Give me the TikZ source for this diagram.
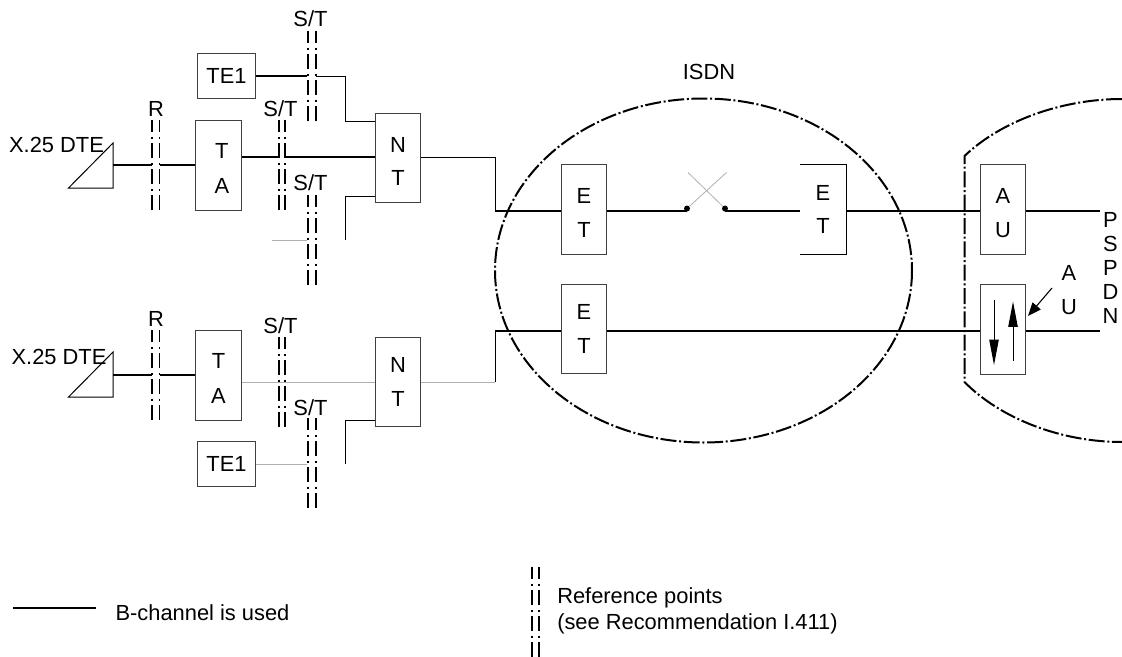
\documentclass[tikz,border=0pt]{standalone}
\usepackage{fontspec}
\setmainfont{Liberation Sans}
\usepackage{xcolor}
\usetikzlibrary{arrows.meta}
\definecolor{ink}{HTML}{000000}
\definecolor{faint}{HTML}{B0B0B0}
\tikzset{
  font=\fontsize{16.4}{25}\selectfont,
  base/.style={
    draw=ink!75, line width=0.8pt, fill=white, text=ink, align=center, inner sep=0pt
  },
  tallbox/.style={base, minimum width=34pt, minimum height=67pt},
  lowbox/.style={tallbox, text height=41.5pt},
  tebox/.style={base, minimum width=44pt, minimum height=34pt},
  openbox/.style={tallbox, draw=none, fill=none},
  tag/.style={text=ink, align=center, inner sep=0pt},
  flow/.style={line width=0.75pt, draw=ink},
  flowb/.style={line width=1.4pt, draw=ink},
  flowg/.style={line width=0.6pt, draw=faint},
  refline/.style={line width=1.25pt, draw=ink, dash pattern=on 11pt off 3.5pt on 1.5pt off 3.5pt, dash phase=2pt},
  boundary/.style={line width=1.5pt, draw=ink, dash pattern=on 12pt off 2pt on 1.5pt off 2pt},
  tiparrow/.style={-{Triangle[length=19pt,width=7pt]}, line width=0.75pt, draw=ink},
  callout/.style={-{Triangle[length=10pt,width=8pt]}, line width=0.8pt, draw=ink},
  swdot/.style={circle, fill=ink, inner sep=0pt, minimum size=4.5pt}
}
\newcommand{\refpt}[4]{%
  \draw[refline] (#1,#3) -- (#1,#4);
  \draw[refline] (#2,#3) -- (#2,#4);
}

\begin{document}
\begin{tikzpicture}[x=0.75pt,y=-0.75pt]
  \useasboundingbox (0,0) rectangle (1122,657);

  % upper access
  \node[tebox] (teup) at (226.5,76) {TE1};
  \node[lowbox] (taup) at (218.5,165.5) {\hspace*{5pt}T\\[1pt]\hspace*{5pt}A};
  \node[lowbox] (ntup) at (398,158) {N\\T};
  \node[tag] (dteup) at (56.5,145) {X.25 DTE};
  \coordinate (dteupa) at (113,165);
  \draw[flow] (dteupa |- 0,143) -- (68.5,188) -- (113,188) -- cycle;

  % lower access
  \node[tebox] (telo) at (226.5,464) {TE1};
  \node[lowbox] (talo) at (218.5,375.5) {T\\[1pt]A};
  \node[tallbox] (ntlo) at (398,382) {N\\T};
  \node[tag] (dtelo) at (59,357) {X.25 DTE};
  \coordinate (dteloa) at (113,375);
  \draw[flow] (dteloa |- 0,352) -- (68.5,397) -- (113,397) -- cycle;

  % exchange
  \node[lowbox] (etup) at (584,209.5) {E\\T};
  \node[tallbox] (etlo) at (584,329) {E\\T};
  \node[openbox] (etsw) at (823,209.5) {E\\T};
  \draw[flow] (etsw.north west) -- (etsw.north east) -- (etsw.south east) -- (etsw.south west);
  \node[lowbox] (auup) at (1003,209.5) {A\\U};
  \node[tallbox] (aulo) at (1003,329.5) {};

  % networks
  \draw[boundary] (703.5,270.5) ellipse (208.5 and 172);
  \node[tag] (isdn) at (709,72) {ISDN};
  \coordinate (pstop) at (964.5,156);
  \coordinate (psbot) at (964.5,382);
  \draw[boundary] (1122,99) .. controls (1060,99) and (1000,122) .. (pstop) -- (psbot)
     .. controls (1000,418) and (1060,442) .. (1122,442);
  \node[tag, font=\fontsize{16.4}{18}\selectfont] (pspdn) at (1110.5,268) {P\\S\\P\\D\\N};

  % switch
  \node[swdot] (swa) at (687,208.5) {};
  \node[swdot] (swb) at (725,208.5) {};
  \coordinate (swc) at (726.5,172.5);
  \coordinate (swd) at (688,172.5);
  \draw[flowg] (swa) -- (swc);
  \draw[flowg] (swb) -- (swd);

  % reference points
  \refpt{152}{159.5}{120}{210}
  \refpt{278.7}{285}{120}{210}
  \refpt{307.7}{316}{31}{120.5}
  \refpt{307.7}{316}{195}{286}
  \refpt{152}{159.5}{330}{420}
  \refpt{278.7}{285}{337}{427}
  \refpt{307.7}{316}{418}{510}
  \node[tag] (rup) at (156,109) {R};
  \node[tag] (stb) at (280.5,109) {S/T};
  \node[tag] (sta) at (310.5,19) {S/T};
  \node[tag] (stc) at (310.5,183) {S/T};
  \node[tag] (rlo) at (156,319) {R};
  \node[tag] (std) at (280.5,326) {S/T};
  \node[tag] (ste) at (310.5,408) {S/T};

  % upper edges
  \coordinate (staw) at (307,76);
  \coordinate (stae) at (316,76);
  \draw[flowb] (teup.east |- staw) -- (staw);
  \draw[flow] (stae) -- (345,76) |- (ntup.west |- 0,121);
  \coordinate (rupw) at (152,165);
  \coordinate (rupe) at (159.5,165);
  \draw[flowb] (dteupa) -- (rupw);
  \draw[flowb] (rupe) -- (taup.west |- rupe);
  \coordinate (stbw) at (279,157);
  \coordinate (stbe) at (286,157);
  \draw[flowb] (taup.east |- stbw) -- (stbw);
  \draw[flowb] (stbe) -- (ntup.west |- stbe);
  \coordinate (stcw) at (272,240);
  \coordinate (stce) at (307,240);
  \draw[flowg] (stcw) -- (stce);
  \coordinate (ntupf) at (345,240);
  \draw[flow] (ntup.west |- 0,196) -| (ntupf);
  \coordinate (ntupk) at (495,211);
  \draw[flow] (ntup.east |- 0,157) -| (ntupk);
  \draw[flowb] (ntupk) -- (etup.west |- ntupk);
  \draw[flowb] (etup.east |- ntupk) -- (swa.center |- ntupk);
  \draw[flowb] (swb.center |- ntupk) -- (etsw.west |- ntupk);
  \draw[flowb] (etsw.east |- ntupk) -- (auup.west |- ntupk);
  \coordinate (pupend) at (1100,211);
  \draw[flowb] (auup.east |- pupend) -- (pupend);

  % lower edges
  \coordinate (rlow) at (152,375);
  \coordinate (rloe) at (159.5,375);
  \draw[flowb] (dteloa) -- (rlow);
  \draw[flowb] (rloe) -- (talo.west |- rloe);
  \draw[flowg] (talo.east |- ntlo) -- (ntlo.west);
  \coordinate (ntlok) at (495,382);
  \coordinate (ntlom) at (495,331);
  \draw[flowg] (ntlo.east) -- (ntlok);
  \draw[flow] (ntlok) -- (ntlom);
  \draw[flowb] (ntlom) -- (etlo.west |- ntlom);
  \draw[flowb] (etlo.east |- ntlom) -- (aulo.west |- ntlom);
  \coordinate (ploend) at (1100,331);
  \draw[flowb] (aulo.east |- ploend) -- (ploend);
  \coordinate (ntlof) at (345,464);
  \draw[flow] (ntlo.west |- 0,420) -| (ntlof);
  \coordinate (stew) at (307,464);
  \draw[flowg] (telo.east |- stew) -- (stew);

  % relay unit
  \coordinate (aua) at (994,300);
  \coordinate (aub) at (994,365);
  \coordinate (auc) at (1013,361);
  \coordinate (aud) at (1013,301.5);
  \draw[tiparrow] (aua) -- (aub);
  \draw[tiparrow] (auc) -- (aud);
  \node[tag] (aulbl) at (1069,290) {A\\U};
  \coordinate (auarr) at (1052,288);
  \coordinate (auhit) at (1028,316);
  \draw[callout] (auarr) -- (auhit);

  % legend
  \coordinate (lega) at (13,608);
  \coordinate (legb) at (96,608);
  \draw[flowb] (lega) -- (legb);
  \node[tag] (legbch) at (202.5,613) {B-channel is used};
  \refpt{531.7}{539}{567}{657}
  \node[tag, anchor=west, align=left, font=\fontsize{16.4}{20}\selectfont] (legref) at (557,611) {Reference points\\(see Recommendation I.411)};
\end{tikzpicture}
\end{document}
